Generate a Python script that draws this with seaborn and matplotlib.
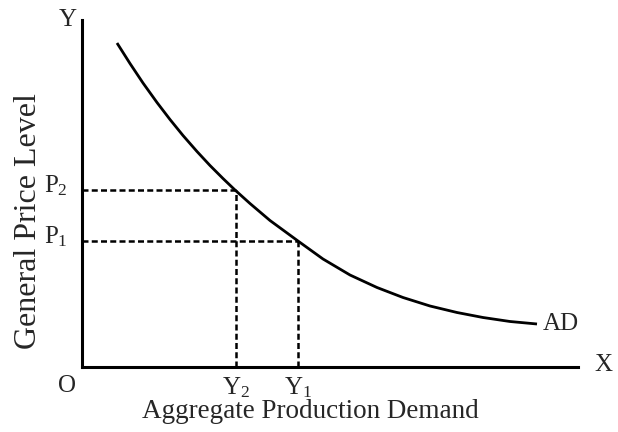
import numpy as np
import pandas as pd
import seaborn as sns
import matplotlib.pyplot as plt

# AD curve (quantity, price level)
ad_quantity = [35, 48, 61, 75, 88, 101, 115, 128, 141, 153, 168, 188,
               216, 241, 268, 295, 321, 348, 375, 401, 428, 455]
ad_price = [324, 303.5, 284, 264.5, 247.5, 231.5, 215.5, 201.5, 188.5, 177, 163.5, 146.5,
            126, 108, 92, 79.5, 69.5, 61, 54.5, 49.5, 45.5, 43]

# the two marked equilibria
marked_prices = [177, 126]      # P2, P1
marked_quantities = [154, 216]  # Y2, Y1
price_labels = ["P_2", "P_1"]
quantity_labels = ["Y_2", "Y_1"]

sns.set_theme(style="white")
plt.rcParams['font.family'] = ['Liberation Serif', 'DejaVu Serif']
plt.rcParams['mathtext.fontset'] = 'custom'
plt.rcParams['mathtext.rm'] = 'Liberation Serif'
plt.rcParams['mathtext.it'] = 'Liberation Serif'

fig = plt.figure(figsize=(6.18, 4.32), dpi=100)
ax = fig.add_axes([82 / 618, 65 / 432, 496 / 618, 347 / 432])
ax.set_xlim(0, 496)
ax.set_ylim(0, 347)

curve = pd.DataFrame({'q': ad_quantity, 'p': ad_price})
sns.lineplot(data=curve, x='q', y='p', ax=ax, color='black', lw=2.0, sort=False,
             solid_joinstyle='round', solid_capstyle='butt')

for p, q in zip(marked_prices, marked_quantities):
    ax.plot([0, q], [p, p], color='black', lw=1.8, dashes=(2.4, 1.3))
    ax.plot([q, q], [0, p], color='black', lw=1.8, dashes=(2.4, 1.3))

for p, lab in zip(marked_prices, price_labels):
    ax.text(-14, p + 4, f"${lab}$", ha='right', va='center', fontsize=18, clip_on=False)
for q, lab in zip(marked_quantities, quantity_labels):
    ax.text(q, -8, f"${lab}$", ha='center', va='top', fontsize=18, clip_on=False)

ax.text(-15, -8, "O", ha='center', va='top', fontsize=18, clip_on=False)
ax.text(-14, 347, "Y", ha='center', va='center', fontsize=18, clip_on=False)
ax.text(521, 2, "X", ha='center', va='center', fontsize=18, clip_on=False)
ax.text(ad_quantity[-1] + 6, ad_price[-1], "AD", ha='left', va='center', fontsize=18, clip_on=False)

ax.set_xlabel("Aggregate Production Demand", fontsize=19.5, labelpad=23)
ax.xaxis.label.set_x(0.46)
ax.set_ylabel("General Price Level", fontsize=23, labelpad=28)
ax.yaxis.label.set_y(0.42)
ax.set_xticks([])
ax.set_yticks([])
sns.despine(ax=ax)
for s in ['left', 'bottom']:
    ax.spines[s].set_linewidth(2.2)
    ax.spines[s].set_color('black')

fig.savefig('out.png', dpi=100)
